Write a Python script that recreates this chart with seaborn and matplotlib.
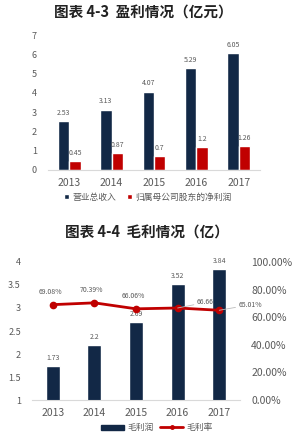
import pandas as pd
import seaborn as sns
import matplotlib.pyplot as plt

years = ["2013", "2014", "2015", "2016", "2017"]
revenue = [2.53, 3.13, 4.07, 5.29, 6.05]
net_profit = [0.45, 0.87, 0.70, 1.20, 1.26]
gross_profit = [1.73, 2.20, 2.69, 3.52, 3.84]
gross_margin = [69.08, 70.39, 66.06, 66.66, 65.01]
rev_name = "营业总收入"
np_name = "归属母公司股东的净利润"

navy = "#122846"
red = "#C00000"
gray = "#595959"

sns.set_style("white")
plt.rcParams["font.family"] = ["Noto Sans CJK SC", "DejaVu Sans"]

fig = plt.figure(figsize=(2.99, 4.47), dpi=100)

# ---- chart 4-3
df1 = pd.DataFrame({
    "year": years * 2,
    "value": revenue + net_profit,
    "series": [rev_name] * 5 + [np_name] * 5,
})
ax1 = fig.add_axes([0.1605, 0.6197, 0.709, 0.302])
sns.barplot(data=df1, x="year", y="value", hue="series", palette=[navy, red],
            width=0.54, gap=0, saturation=1, ax=ax1)
ax1.set_ylim(0, 7)
ax1.set_xlim(-0.5, 4.5)
ax1.set_xlabel("")
ax1.set_ylabel("")
for c, vals in zip(ax1.containers, [revenue, net_profit]):
    ax1.bar_label(c, labels=[f"{v:g}" for v in vals], fontsize=5, color=gray, padding=3)
fig.text(0.48, 0.972, "图表 4-3  盈利情况（亿元）", ha="center", va="center",
         fontsize=10.5, fontweight="bold", color="#222222")
ax1.legend(loc="upper center", bbox_to_anchor=(0.47, -0.11), ncol=2, frameon=False,
           fontsize=6.3, handlelength=0.6, handleheight=0.6, handletextpad=0.3,
           columnspacing=1.3, labelcolor=gray)

# ---- chart 4-4
ax2 = fig.add_axes([0.107, 0.105, 0.696, 0.309])
sns.barplot(x=years, y=gross_profit, color=navy, width=0.34, ax=ax2, saturation=1)
ax2.set_ylim(1, 4)
ax2.set_xlim(-0.5, 4.5)
ax2.set_yticks([1, 1.5, 2, 2.5, 3, 3.5, 4])
ax2.set_yticklabels(["1", "1.5", "2", "2.5", "3", "3.5", "4"])
ax2.bar_label(ax2.containers[0], labels=[f"{v:g}" for v in gross_profit],
              fontsize=5, color=gray, padding=3)

ax3 = ax2.twinx()
sns.pointplot(x=years, y=gross_margin, color=red, markers="o", markersize=4,
              linewidth=2, ax=ax3)
ax3.set_ylim(0, 100)
ax3.set_xlim(-0.5, 4.5)
ax3.set_yticks([0, 20, 40, 60, 80, 100])
ax3.set_yticklabels([f"{v:.2f}%" for v in [0, 20, 40, 60, 80, 100]])
for i, v in enumerate(gross_margin):
    if i < 3:
        ax3.annotate(f"{v:.2f}%", (i, v), xytext=(-2, 8), textcoords="offset points",
                     ha="center", fontsize=5, color=gray)
    else:
        ax3.annotate(f"{v:.2f}%" if i == 4 else f"{v:.2f}", (i, v), xytext=(14, 4),
                     textcoords="offset points", ha="left", va="center", fontsize=5,
                     color=gray,
                     arrowprops=dict(arrowstyle="-", color="#BBBBBB", lw=0.6,
                                     shrinkA=0, shrinkB=0))
fig.text(0.49, 0.48, "图表 4-4  毛利情况（亿）", ha="center", va="center",
         fontsize=10.5, fontweight="bold", color="#222222")

h1 = plt.Rectangle((0, 0), 1, 1, color=navy)
h2 = plt.Line2D([], [], color=red, lw=2, marker="o", markersize=2.5)
ax2.legend([h1, h2], ["毛利润", "毛利率"], loc="upper center", bbox_to_anchor=(0.6, -0.11),
           ncol=2, frameon=False, fontsize=6.3, handlelength=2.6, handleheight=0.5,
           handletextpad=0.4, columnspacing=0.8, labelcolor=gray)

for ax in (ax1, ax2, ax3):
    for s in ax.spines.values():
        s.set_visible(False)
    ax.tick_params(length=0, colors=gray)
for ax in (ax1, ax2):
    ax.spines["bottom"].set_visible(True)
    ax.spines["bottom"].set_color("#D9D9D9")
    ax.tick_params(axis="x", labelsize=7.5, pad=6)
    ax.tick_params(axis="y", labelsize=6.5, pad=8)
ax3.set_ylabel("")
ax3.tick_params(axis="y", labelsize=7.5, pad=8)
ax3.grid(False)

fig.savefig("out.png", dpi=100, facecolor="white")
